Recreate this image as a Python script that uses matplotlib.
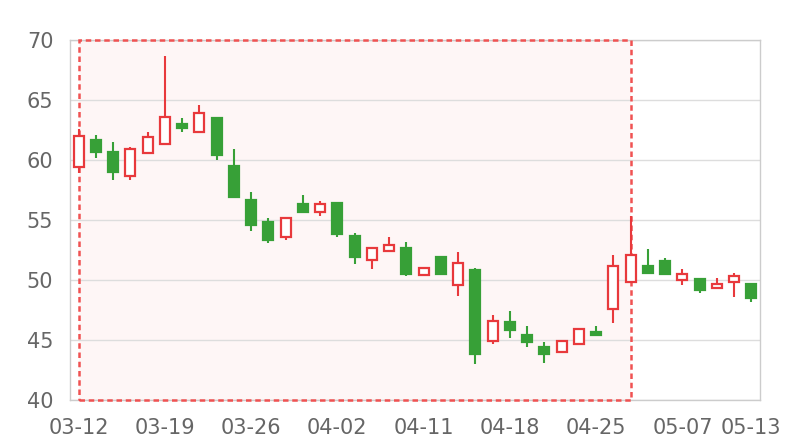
import matplotlib
matplotlib.use('Agg')
import matplotlib.pyplot as plt

# Trading days (2024) and OHLC values
dates = ['03-12', '03-13', '03-14', '03-15', '03-18', '03-19', '03-20', '03-21',
         '03-22', '03-25', '03-26', '03-27', '03-28', '03-29', '04-01', '04-02',
         '04-03', '04-08', '04-09', '04-10', '04-11', '04-12', '04-15', '04-16',
         '04-17', '04-18', '04-19', '04-22', '04-23', '04-24', '04-25', '04-26',
         '04-29', '04-30', '05-06', '05-07', '05-08', '05-09', '05-10', '05-13']
opens = [59.4, 61.7, 60.7, 58.7, 60.6, 61.3, 63.0, 62.3, 63.5, 59.5,
         56.7, 54.8, 53.6, 56.3, 55.7, 56.4, 53.7, 51.7, 52.4, 52.7,
         50.4, 51.9, 49.6, 50.8, 44.9, 46.5, 45.4, 44.4, 44.0, 44.7,
         45.7, 47.6, 49.8, 51.2, 51.6, 50.0, 50.1, 49.3, 49.8, 49.7]
closes = [62.0, 60.7, 59.0, 60.9, 61.9, 63.6, 62.7, 63.9, 60.4, 56.9,
          54.6, 53.3, 55.2, 55.7, 56.3, 53.8, 51.9, 52.7, 52.9, 50.5,
          51.0, 50.5, 51.4, 43.8, 46.6, 45.8, 44.8, 43.8, 44.9, 45.9,
          45.4, 51.2, 52.1, 50.6, 50.5, 50.5, 49.2, 49.7, 50.3, 48.5]
lows = [58.9, 60.2, 58.3, 58.3, 60.6, 61.3, 62.3, 62.3, 60.0, 56.9,
        54.1, 53.1, 53.3, 55.7, 55.3, 53.6, 51.3, 50.9, 52.4, 50.3,
        50.3, 50.4, 48.7, 43.0, 44.7, 45.2, 44.4, 43.1, 44.0, 44.6,
        45.3, 46.4, 49.8, 50.6, 50.5, 49.6, 48.9, 49.3, 48.6, 48.2]
highs = [62.6, 62.1, 61.5, 61.1, 62.3, 68.7, 63.5, 64.6, 63.6, 60.9,
         57.3, 55.2, 55.2, 57.1, 56.6, 56.4, 53.9, 52.7, 53.6, 53.2,
         51.1, 51.9, 52.3, 51.0, 47.1, 47.4, 46.2, 44.8, 44.9, 45.9,
         46.2, 52.1, 55.3, 52.6, 51.8, 50.9, 50.1, 50.2, 50.6, 49.7]
label_dates = ['03-12', '03-19', '03-26', '04-02', '04-11', '04-18', '04-25', '05-07', '05-13']
mark_start = '03-12'
mark_end = '04-29'

up_color = '#e8393c'
down_color = '#37a037'

fig = plt.figure(figsize=(8, 4.4), dpi=100)
ax = fig.add_axes([70 / 800, 40 / 440, 690 / 800, 360 / 440])

x = list(range(len(dates)))
for i in x:
    up = closes[i] >= opens[i]
    c = up_color if up else down_color
    ax.vlines(i, lows[i], highs[i], color=c, linewidth=1.5, zorder=3)
    bottom = min(opens[i], closes[i])
    height = max(abs(closes[i] - opens[i]), 0.05)
    ax.bar(i, height, bottom=bottom, width=0.58,
           facecolor='white' if up else c, edgecolor=c,
           linewidth=1.6, zorder=4)

# shaded mark area (under the grid) with dashed border (above spines, below candles)
x0 = dates.index(mark_start)
x1 = dates.index(mark_end)
ax.axvspan(x0, x1, facecolor='#fef6f6', edgecolor='none', zorder=0.3)
ax.axvspan(x0, x1, facecolor='none', edgecolor='#f05252',
           linestyle=(0, (2.2, 1.5)), linewidth=1.8, zorder=2.8, clip_on=False)

ax.set_xlim(-0.5, len(dates) - 0.5)
ax.set_ylim(40, 70)
ax.set_yticks([40, 45, 50, 55, 60, 65, 70])
ax.set_xticks([dates.index(d) for d in label_dates])
ax.set_xticklabels(label_dates)

ax.yaxis.grid(True, color='#dddddd', linewidth=1)
ax.set_axisbelow(True)
for s in ax.spines.values():
    s.set_color('#cccccc')
    s.set_linewidth(1)
ax.tick_params(length=0, labelsize=15, colors='#666666')
ax.tick_params(axis='y', pad=12)
ax.tick_params(axis='x', pad=13)

fig.savefig('out.png', dpi=100)
